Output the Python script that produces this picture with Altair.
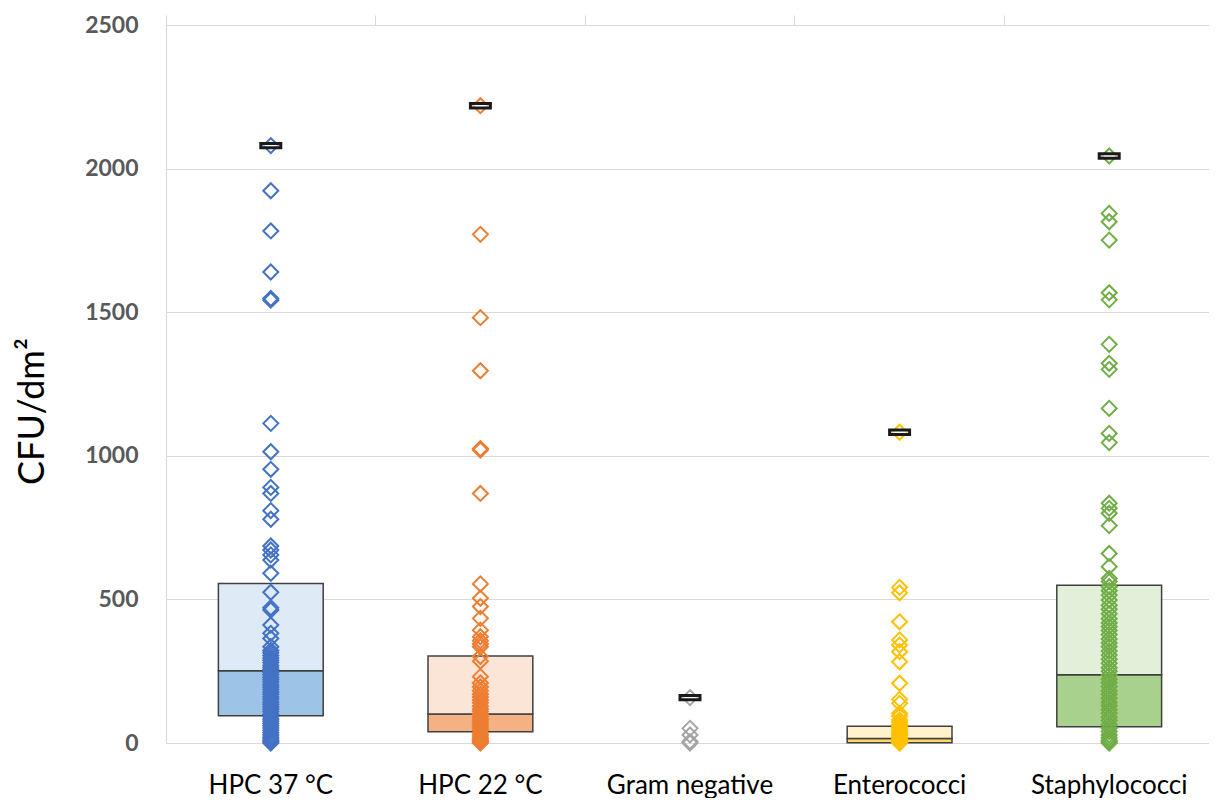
import altair as alt
import pandas as pd

categories = ["HPC 37 °C", "HPC 22 °C", "Gram negative", "Enterococci", "Staphylococci"]
point_colors = ["#4472C4", "#ED7D31", "#A5A5A5", "#FFC000", "#70AD47"]

hpc37 = [2080, 1923, 1783, 1640, 1548, 1542, 1113, 1014, 953, 890, 869, 809, 779, 686, 672,
         655, 637, 591, 525, 471, 463, 411, 382, 364, 335, 322, 314, 305, 296, 288, 280, 270,
         262, 255, 246, 238, 228, 220, 212, 203, 195, 186, 178, 170, 160, 152, 143, 135, 126,
         118, 110, 100, 92, 84, 76, 68, 60, 52, 44, 36, 28, 20, 14, 8, 4, 0]
hpc22 = [2219, 1771, 1481, 1296, 1025, 1020, 869, 554, 504, 475, 434, 393, 370, 356, 345, 335,
         301, 285, 231, 209, 195, 182, 170, 160, 150, 140, 128, 118, 110, 100, 92, 84, 76, 68,
         60, 52, 44, 36, 28, 20, 14, 8, 4, 0]
gramneg = [158, 51, 28, 5, 0]
entero = [1082, 542, 523, 422, 359, 341, 318, 283, 208, 152, 138, 103, 94, 80, 72, 64, 56, 48,
          40, 33, 26, 20, 14, 9, 5, 2, 0]
staph = [2044, 1844, 1815, 1751, 1568, 1543, 1388, 1322, 1301, 1165, 1078, 1046, 835, 817, 800,
         757, 660, 614, 573, 562, 544, 530, 515, 498, 480, 466, 450, 433, 418, 405, 392, 378,
         362, 348, 335, 320, 306, 292, 278, 262, 250, 236, 222, 210, 196, 182, 170, 156, 142,
         130, 116, 104, 90, 78, 64, 52, 40, 28, 18, 10, 4, 0]

box_cats = ["HPC 37 °C", "HPC 22 °C", "Enterococci", "Staphylococci"]
q1 = [95, 39, 1, 57]
median = [252, 101, 16, 238]
q3 = [555, 303, 58, 549]
lower_colors = ["#9DC3E6", "#F4B183", "#FFD966", "#A9D18E"]
upper_colors = ["#DEEBF7", "#FBE5D6", "#FFF2CC", "#E2F0D9"]

series = [hpc37, hpc22, gramneg, entero, staph]
rows = []
for cat, col, vals in zip(categories, point_colors, series):
    for v in vals:
        rows.append({"cat": cat, "value": v, "color": col})
points_df = pd.DataFrame(rows)

max_df = pd.DataFrame({"cat": categories, "value": [max(s) for s in series]})

box_df = pd.DataFrame({"cat": box_cats, "q1": q1, "med": median, "q3": q3,
                       "low": lower_colors, "up": upper_colors})

yscale = alt.Scale(domain=[0, 2500], nice=False)
xscale = alt.Scale(type="band", domain=categories, paddingInner=0, paddingOuter=0)

bottom_axis = alt.Axis(orient="bottom", title=None, labelFont="Lato", labelFontSize=26,
                       labelColor="#000000", labelPadding=29, ticks=False, domain=False,
                       labelAngle=0, grid=False)
top_axis = alt.Axis(orient="top", title=None, labels=False, domain=False, ticks=True,
                    tickSize=10, tickColor="#D9D9D9", tickWidth=1, bandPosition=0, grid=False)
y_axis = alt.Axis(values=[0, 500, 1000, 1500, 2000, 2500], format="d", grid=True,
                  gridColor="#D9D9D9", gridWidth=1, domain=False, ticks=False,
                  labelFont="Lato", labelFontWeight="bold", labelFontSize=23,
                  labelColor="#595959", labelPadding=28, labelFlush=False,
                  labelOverlap=False, title="CFU/dm²", titleFont="Lato", titleFontSize=36,
                  titleFontWeight="normal", titleColor="#000000", titleAngle=270,
                  titleX=-134, titleY=386, titleAlign="center", titleBaseline="middle")

lower = alt.Chart(box_df).mark_bar(width=alt.RelativeBandSize(0.5), stroke="#404040",
                                   strokeWidth=1.5).encode(
    x=alt.X("cat:N", scale=xscale, sort=categories, axis=bottom_axis),
    y=alt.Y("q1:Q", scale=yscale, axis=y_axis),
    y2="med:Q",
    fill=alt.Fill("low:N", scale=None),
)
upper = alt.Chart(box_df).mark_bar(width=alt.RelativeBandSize(0.5), stroke="#404040",
                                   strokeWidth=1.5).encode(
    x=alt.X("cat:N", scale=xscale, sort=categories, axis=top_axis),
    y=alt.Y("med:Q", scale=yscale, axis=y_axis),
    y2="q3:Q",
    fill=alt.Fill("up:N", scale=None),
)
pts = alt.Chart(points_df).mark_point(shape="diamond", filled=False, size=225,
                                      strokeWidth=2, opacity=1).encode(
    x=alt.X("cat:N", scale=xscale, sort=categories, axis=None),
    y=alt.Y("value:Q", scale=yscale, axis=y_axis),
    stroke=alt.Stroke("color:N", scale=None),
)
maxmark = alt.Chart(max_df).mark_point(
    shape="M -1 -0.22 L 1 -0.22 L 1 0.22 L -1 0.22 Z", size=400, filled=False,
    stroke="#1a1a1a", strokeWidth=3, fill="#ffffff", fillOpacity=0.5, opacity=1).encode(
    x=alt.X("cat:N", scale=xscale, sort=categories, axis=None),
    y=alt.Y("value:Q", scale=yscale, axis=y_axis),
)

chart = alt.layer(lower, upper, pts, maxmark).resolve_axis(x="independent").properties(
    width=1048, height=718,
    padding={"left": 158, "top": 17, "right": -5, "bottom": 55},
    autosize=alt.AutoSizeParams(type="none"),
).configure_view(stroke="#D9D9D9", strokeWidth=1)

chart.save("out.html", embed_options={"renderer": "svg", "actions": False})
